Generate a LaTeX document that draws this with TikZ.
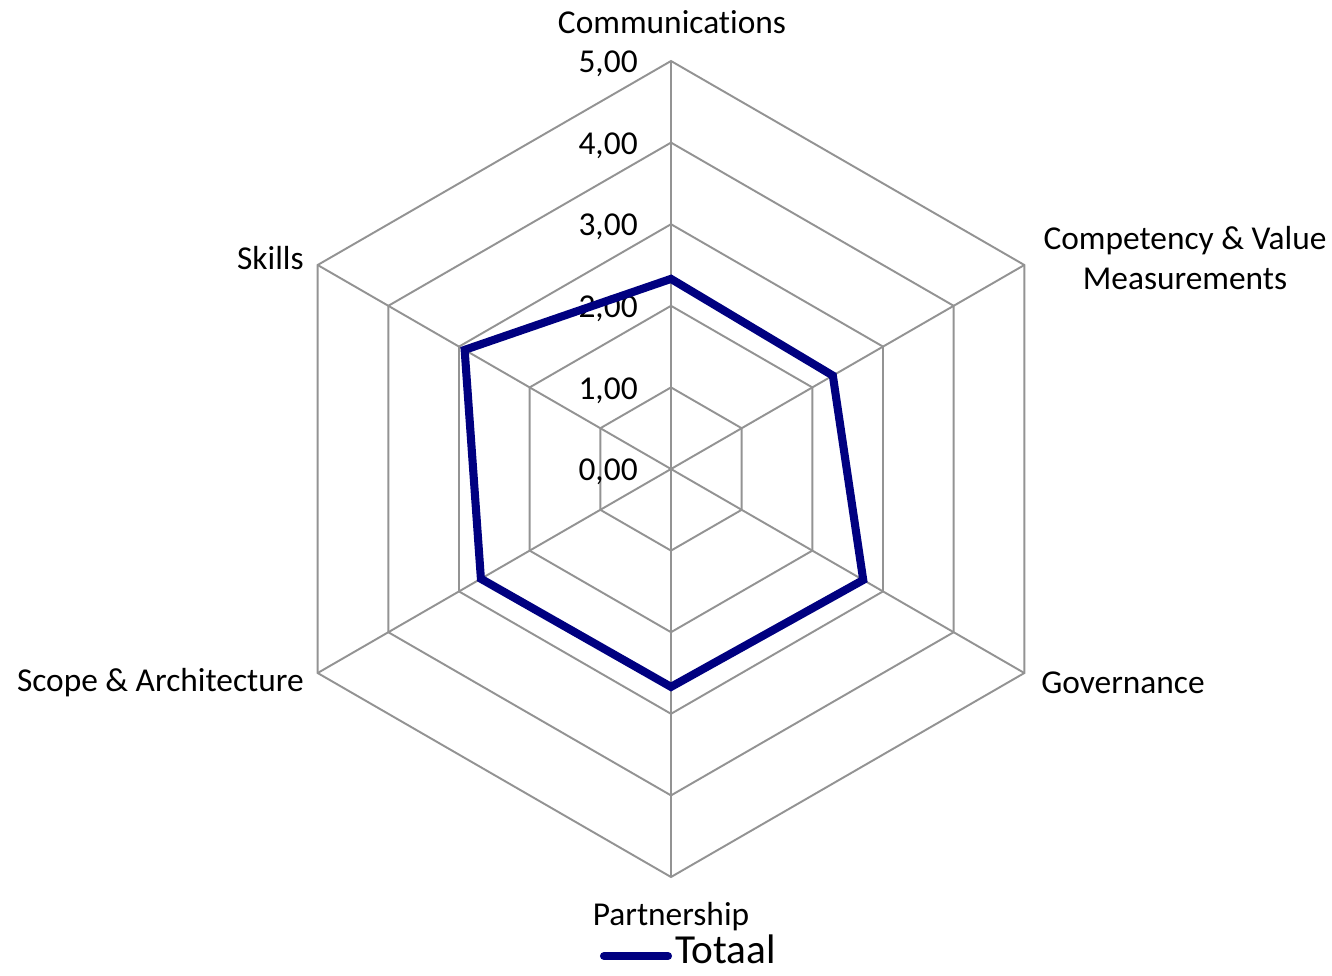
\documentclass[tikz,border=0pt]{standalone}
\usepackage{fontspec}
\setmainfont{Carlito}[Ligatures=CommonOff]
\usetikzlibrary{calc}
\begin{document}
\begin{tikzpicture}[x=0.02cm,y=-0.02cm,
  gridline/.style={draw=gray!85,line width=1.1pt},
  dataline/.style={draw={rgb,255:red,0;green,0;blue,128},line width=4.6pt,line join=miter},
  axislabel/.style={font=\fontsize{19}{22}\selectfont,inner sep=0pt},
  ticklabel/.style={font=\fontsize{19}{22}\selectfont,inner sep=0pt,anchor=east}]
\useasboundingbox (0,0) rectangle (1332,975);
\coordinate (c) at (671,469);
% rings (y axis points down, so -90 is up)
\foreach \k in {1,...,5}
  \draw[gridline] (c) +(-90:{81.6*\k}) -- +(-30:{81.6*\k}) -- +(30:{81.6*\k})
    -- +(90:{81.6*\k}) -- +(150:{81.6*\k}) -- +(210:{81.6*\k}) -- cycle;
% spokes
\foreach \a/\n in {-90/com,-30/cvm,30/gov,90/par,150/sco,210/ski}
  \coordinate (\n) at ($(c)+(\a:408)$);
\foreach \n in {com,cvm,gov,par,sco,ski}
  \draw[gridline] (c) -- (\n);
% tick labels
\foreach \k in {0,...,5}
  \node[ticklabel] (t\k) at (638,{472-81.6*\k}) {\k,00};
% data
\coordinate (d1) at ($(c)+(-90:{81.6*2.33})$);
\coordinate (d2) at ($(c)+(-30:{81.6*2.29})$);
\coordinate (d3) at ($(c)+(30:{81.6*2.72})$);
\coordinate (d4) at ($(c)+(90:{81.6*2.67})$);
\coordinate (d5) at ($(c)+(150:{81.6*2.69})$);
\coordinate (d6) at ($(c)+(210:{81.6*2.92})$);
\draw[dataline] (d1) -- (d2) -- (d3) -- (d4) -- (d5) -- (d6) -- cycle;
% axis labels
\node[axislabel] (lcom) at (672,22) {Communications};
\node[axislabel,align=center] (lcvm) at (1185,258) {Competency \& Value\\[1pt]Measurements};
\node[axislabel,anchor=west] (lgov) at (1041,683) {Governance};
\node[axislabel] (lpar) at (671,917) {Partnership};
\node[axislabel,anchor=east] (lsco) at (304,683) {Scope \& Architecture};
\node[axislabel,anchor=east] (lski) at (304,258) {Skills};
% legend
\coordinate (la) at (604,956);
\coordinate (lb) at (668,956);
\draw[dataline,line cap=round] (la) -- (lb);
\node[anchor=base west,inner sep=0pt,font=\fontsize{23.5}{28}\selectfont] (ltot) at (675,963) {Totaal};
\end{tikzpicture}
\end{document}
